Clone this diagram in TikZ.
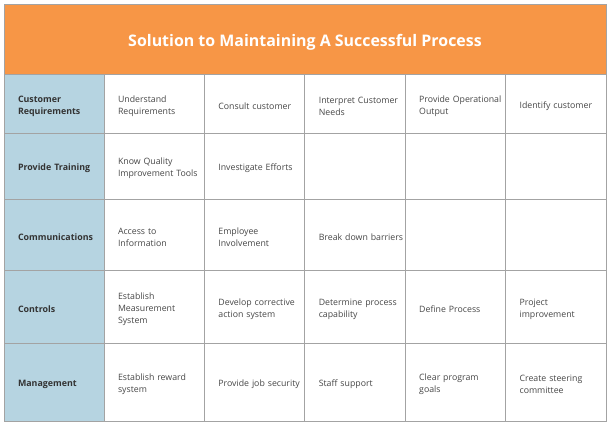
\documentclass[tikz,border=0pt]{standalone}
\usepackage{fontspec}
\setmainfont{Open Sans}
\usetikzlibrary{positioning}

\definecolor{headorange}{HTML}{F79646}
\definecolor{labelblue}{HTML}{B6D4E1}
\definecolor{gridgray}{HTML}{A3A3A3}
\definecolor{bodygray}{HTML}{474747}
\definecolor{labelgray}{HTML}{333333}

\tikzset{
  cellbox/.style={draw=gridgray, line width=0.9pt, anchor=north west, inner xsep=14bp, inner ysep=0pt, outer sep=0pt, align=left,
    execute at begin node={\hyphenpenalty=10000\rule{0pt}{12bp}}},
  headbar/.style={cellbox, fill=headorange, text=white, minimum width=602bp, minimum height=70bp, align=center,
    font=\fontsize{16}{19}\selectfont\bfseries, execute at begin node={\rule{0pt}{19bp}}},
  labelcell/.style={cellbox, fill=labelblue, text=labelgray, text width=72bp, font=\fontsize{8.9}{12}\selectfont\bfseries},
  entrycell/.style={cellbox, fill=white, text=bodygray, text width=72.4bp, font=\fontsize{8.8}{12}\selectfont},
}

\begin{document}
\begin{tikzpicture}[x=1bp, y=-1bp]
	\useasboundingbox (0,0) rectangle (612,427);
	\node[headbar] (head) at (4,4) {Solution to Maintaining A Successful Process};
	% customer requirements
	\node[labelcell, minimum height=59bp] (req) at (4,74) {Customer\\Requirements};
	\node[entrycell, minimum height=59bp] (req1) at (104,74) {Understand\\Requirements};
	\node[entrycell, minimum height=59bp] (req2) at (204.4,74) {Consult~customer};
	\node[entrycell, minimum height=59bp] (req3) at (304.8,74) {Interpret~Customer\\Needs};
	\node[entrycell, minimum height=59bp] (req4) at (405.2,74) {Provide~Operational\\Output};
	\node[entrycell, minimum height=59bp] (req5) at (505.6,74) {Identify~customer};
	% training
	\node[labelcell, minimum height=66bp] (trn) at (4,133) {Provide~Training};
	\node[entrycell, minimum height=66bp] (trn1) at (104,133) {Know~Quality\\Improvement~Tools};
	\node[entrycell, minimum height=66bp] (trn2) at (204.4,133) {Investigate~Efforts};
	\node[entrycell, minimum height=66bp] (trn3) at (304.8,133) {};
	\node[entrycell, minimum height=66bp] (trn4) at (405.2,133) {};
	\node[entrycell, minimum height=66bp] (trn5) at (505.6,133) {};
	% communications
	\node[labelcell, minimum height=71bp] (com) at (4,199) {Communications};
	\node[entrycell, minimum height=71bp] (com1) at (104,199) {Access~to\\Information};
	\node[entrycell, minimum height=71bp] (com2) at (204.4,199) {Employee\\Involvement};
	\node[entrycell, minimum height=71bp] (com3) at (304.8,199) {Break~down~barriers};
	\node[entrycell, minimum height=71bp] (com4) at (405.2,199) {};
	\node[entrycell, minimum height=71bp] (com5) at (505.6,199) {};
	% controls
	\node[labelcell, minimum height=73bp] (ctl) at (4,270) {Controls};
	\node[entrycell, minimum height=73bp] (ctl1) at (104,270) {Establish\\Measurement\\System};
	\node[entrycell, minimum height=73bp] (ctl2) at (204.4,270) {Develop~corrective\\action~system};
	\node[entrycell, minimum height=73bp] (ctl3) at (304.8,270) {Determine~process\\capability};
	\node[entrycell, minimum height=73bp] (ctl4) at (405.2,270) {Define~Process};
	\node[entrycell, minimum height=73bp] (ctl5) at (505.6,270) {Project\\improvement};
	% management
	\node[labelcell, minimum height=78bp] (mgt) at (4,343) {Management};
	\node[entrycell, minimum height=78bp] (mgt1) at (104,343) {Establish~reward\\system};
	\node[entrycell, minimum height=78bp] (mgt2) at (204.4,343) {Provide~job~security};
	\node[entrycell, minimum height=78bp] (mgt3) at (304.8,343) {Staff~support};
	\node[entrycell, minimum height=78bp] (mgt4) at (405.2,343) {Clear~program\\goals};
	\node[entrycell, minimum height=78bp] (mgt5) at (505.6,343) {Create~steering\\committee};
\end{tikzpicture}
\end{document}
